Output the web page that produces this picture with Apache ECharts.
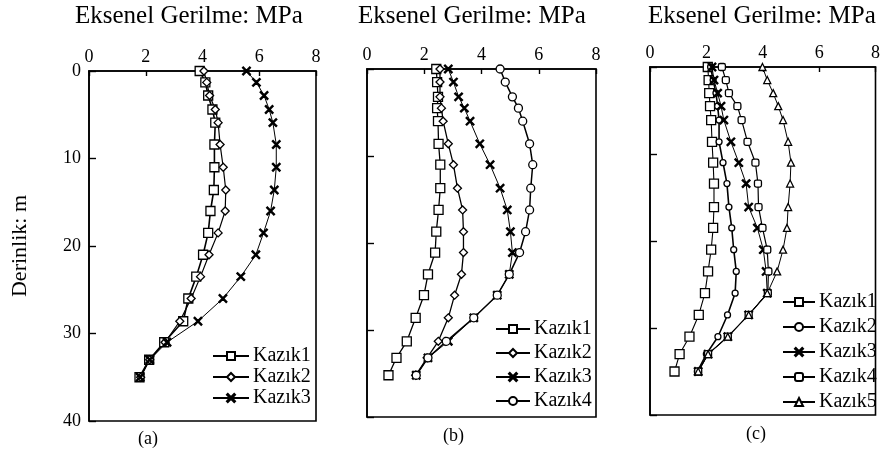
<!DOCTYPE html>
<html>
<head>
<meta charset="utf-8">
<script src="https://cdn.jsdelivr.net/npm/echarts@6/dist/echarts.min.js"></script>
<style>
html,body{margin:0;padding:0;background:#fff}
#chart{width:883px;height:465px}
</style>
</head>
<body>
<div id="chart"></div>
<script>
// Axis ticks (stress in MPa on top, depth in m downwards)
const stressTicks = [0, 2, 4, 6, 8];
const depthTicks = [0, 10, 20, 30, 40];
const panelCaptions = ['(a)', '(b)', '(c)'];
const axisTitle = 'Eksenel Gerilme: MPa';
const depthTitle = 'Derinlik: m';

// Panel (a)
const depthA  = [0, 1.3, 2.8, 4.4, 5.9, 8.4, 11, 13.6, 16, 18.5, 21, 23.5, 26, 28.6, 31, 33, 35];
const aKazik1 = [3.9, 4.1, 4.2, 4.35, 4.45, 4.42, 4.42, 4.4, 4.28, 4.2, 4.02, 3.78, 3.5, 3.32, 2.65, 2.12, 1.78];
const aKazik2 = [4.05, 4.15, 4.25, 4.45, 4.55, 4.62, 4.73, 4.82, 4.8, 4.55, 4.23, 3.93, 3.6, 3.2, 2.68, 2.14, 1.82];
const aKazik3 = [5.55, 5.9, 6.17, 6.35, 6.48, 6.6, 6.6, 6.53, 6.4, 6.15, 5.88, 5.35, 4.72, 3.84, 2.75, 2.14, 1.8];

// Panel (b)
const depthB  = [0, 1.5, 3.2, 4.5, 6.0, 8.6, 11, 13.7, 16.2, 18.7, 21.1, 23.6, 26, 28.6, 31.3, 33.2, 35.2];
const bKazik1 = [2.42, 2.45, 2.48, 2.45, 2.48, 2.5, 2.56, 2.56, 2.5, 2.42, 2.38, 2.13, 1.99, 1.7, 1.39, 1.03, 0.75];
const bKazik2 = [2.55, 2.55, 2.55, 2.6, 2.66, 2.84, 3.02, 3.16, 3.34, 3.37, 3.37, 3.3, 3.06, 2.84, 2.49, 2.1, 1.7];
const bKazik3 = [2.84, 3.02, 3.2, 3.4, 3.6, 3.94, 4.3, 4.65, 4.9, 5.01, 5.08, 4.97, 4.55, 3.73, 2.84, 2.13, 1.72];
const bKazik4 = [4.65, 4.83, 5.08, 5.29, 5.44, 5.68, 5.79, 5.72, 5.68, 5.54, 5.33, 4.97, 4.55, 3.73, 2.77, 2.13, 1.72];

// Panel (c)
const depthC  = [0, 1.5, 3.0, 4.5, 6.1, 8.6, 11, 13.4, 16.1, 18.5, 21, 23.5, 26, 28.5, 31, 33, 35];
const cKazik1 = [2.05, 2.08, 2.1, 2.13, 2.17, 2.2, 2.24, 2.27, 2.27, 2.24, 2.17, 2.06, 1.95, 1.73, 1.4, 1.05, 0.87];
const cKazik2 = [2.15, 2.24, 2.34, 2.4, 2.45, 2.45, 2.59, 2.73, 2.8, 2.9, 2.97, 3.06, 3.02, 2.75, 2.41, 2.0, 1.68];
const cKazik3 = [2.2, 2.27, 2.4, 2.52, 2.62, 2.87, 3.15, 3.41, 3.5, 3.81, 4.02, 4.12, 4.16, 3.5, 2.76, 2.06, 1.71];
const cKazik4 = [2.55, 2.69, 2.8, 3.1, 3.25, 3.46, 3.74, 3.83, 3.85, 3.99, 4.16, 4.2, 4.18, 3.5, 2.76, 2.06, 1.71];
const cKazik5 = [3.99, 4.16, 4.37, 4.55, 4.72, 4.9, 5.0, 4.97, 4.9, 4.86, 4.72, 4.51, 4.16, 3.5, 2.76, 2.06, 1.71];

const SERIF = '"Liberation Serif", "DejaVu Serif", serif';
const CROSS = 'path://M0,1L1,0L5,4L9,0L10,1L6,5L10,9L9,10L5,6L1,10L0,9L4,5Z';

// marker styles
const MARK = {
  square:   { symbol: 'rect', size: 9, fill: '#fff' },
  diamond:  { symbol: 'diamond', size: 8, fill: '#fff' },
  cross:    { symbol: CROSS, size: 8, fill: '#000' },
  circle:   { symbol: 'circle', size: 8, fill: '#fff' },
  dot:      { symbol: 'circle', size: 6, fill: '#fff' },
  box:      { symbol: 'roundRect', size: 7, fill: '#fff' },
  triangle: { symbol: 'triangle', size: 7, fill: '#fff' }
};

function curve(name, panel, depths, values, mark, width) {
  const m = MARK[mark];
  return {
    type: 'line',
    name: name + ' ' + panelCaptions[panel],
    xAxisIndex: panel,
    yAxisIndex: panel,
    data: depths.map((d, i) => [values[i], d]),
    symbol: m.symbol,
    symbolSize: m.size,
    showAllSymbol: true,
    itemStyle: { color: m.fill, borderColor: '#000', borderWidth: 1.3 },
    lineStyle: { color: '#000', width: width },
    emphasis: { disabled: true },
    z: 3
  };
}

const grids = [
  { left: 89,  top: 71, width: 227, height: 350 },
  { left: 367, top: 69, width: 229, height: 348 },
  { left: 650, top: 67, width: 228, height: 348 }
];

const xAxes = grids.map((g, i) => ({
  type: 'value', gridIndex: i, position: 'top',
  min: stressTicks[0], max: stressTicks[stressTicks.length - 1], interval: stressTicks[1] - stressTicks[0],
  axisLine: { show: true, lineStyle: { color: '#000', width: 1.6 } },
  axisTick: { show: true, inside: true, length: 5, lineStyle: { color: '#000', width: 1.4 } },
  axisLabel: { color: '#000', fontFamily: SERIF, fontSize: 18, margin: 5 },
  splitLine: { show: false }
}));

const yAxes = grids.map((g, i) => ({
  type: 'value', gridIndex: i, inverse: true,
  min: depthTicks[0], max: depthTicks[depthTicks.length - 1], interval: depthTicks[1] - depthTicks[0],
  axisLine: { show: true, lineStyle: { color: '#000', width: 1.6 } },
  axisTick: { show: true, inside: true, length: 7, lineStyle: { color: '#000', width: 1.4 } },
  axisLabel: { show: i === 0, color: '#000', fontFamily: SERIF, fontSize: 18, margin: 8 },
  splitLine: { show: false },
  name: i === 0 ? depthTitle : '',
  nameLocation: 'middle', nameRotate: 90, nameGap: 58,
  nameTextStyle: { color: '#000', fontFamily: SERIF, fontSize: 22 }
}));

const series = [
  curve('Kazık1', 0, depthA, aKazik1, 'square', 1.6),
  curve('Kazık2', 0, depthA, aKazik2, 'diamond', 1.2),
  curve('Kazık3', 0, depthA, aKazik3, 'cross', 1),
  curve('Kazık1', 1, depthB, bKazik1, 'square', 1.3),
  curve('Kazık2', 1, depthB, bKazik2, 'diamond', 1.3),
  curve('Kazık3', 1, depthB, bKazik3, 'cross', 1),
  curve('Kazık4', 1, depthB, bKazik4, 'circle', 1.5),
  curve('Kazık1', 2, depthC, cKazik1, 'square', 1.1),
  curve('Kazık2', 2, depthC, cKazik2, 'dot', 1.6),
  curve('Kazık3', 2, depthC, cKazik3, 'cross', 1),
  curve('Kazık4', 2, depthC, cKazik4, 'box', 1.2),
  curve('Kazık5', 2, depthC, cKazik5, 'triangle', 1)
];

function legendFor(panel, left, top, itemWidth, gap) {
  return {
    orient: 'vertical', left: left, top: top,
    itemWidth: itemWidth, itemHeight: 10, itemGap: gap,
    selectedMode: false,
    data: series.filter(s => s.xAxisIndex === panel).map(s => s.name),
    formatter: n => n.split(' ')[0],
    textStyle: { color: '#000', fontFamily: SERIF, fontSize: 20, padding: [0, 0, 0, -1] }
  };
}

const option = {
  animation: false,
  backgroundColor: '#fff',
  title: [
    { text: axisTitle, left: 75,  top: 4 },
    { text: axisTitle, left: 358, top: 4 },
    { text: axisTitle, left: 648, top: 4 }
  ].map(t => Object.assign(t, { padding: 0, textStyle: { color: '#000', fontFamily: SERIF, fontSize: 25, fontWeight: 'normal' } })),
  grid: grids.map(g => Object.assign({ show: true, borderColor: '#000', borderWidth: 1.6, backgroundColor: 'transparent', containLabel: false }, g)),
  xAxis: xAxes,
  yAxis: yAxes,
  legend: [
    legendFor(0, 207, 341, 36, 1),
    legendFor(1, 490, 314, 34, 4),
    legendFor(2, 777, 287, 32, 5)
  ],
  graphic: [
    { type: 'text', left: 138, top: 430, style: { text: panelCaptions[0], font: '18px ' + SERIF, fill: '#000' } },
    { type: 'text', left: 443, top: 427, style: { text: panelCaptions[1], font: '18px ' + SERIF, fill: '#000' } },
    { type: 'text', left: 746, top: 425, style: { text: panelCaptions[2], font: '18px ' + SERIF, fill: '#000' } }
  ],
  series: series
};

const chart = echarts.init(document.getElementById('chart'), null, { renderer: 'canvas' });
chart.setOption(option);
</script>
</body>
</html>
